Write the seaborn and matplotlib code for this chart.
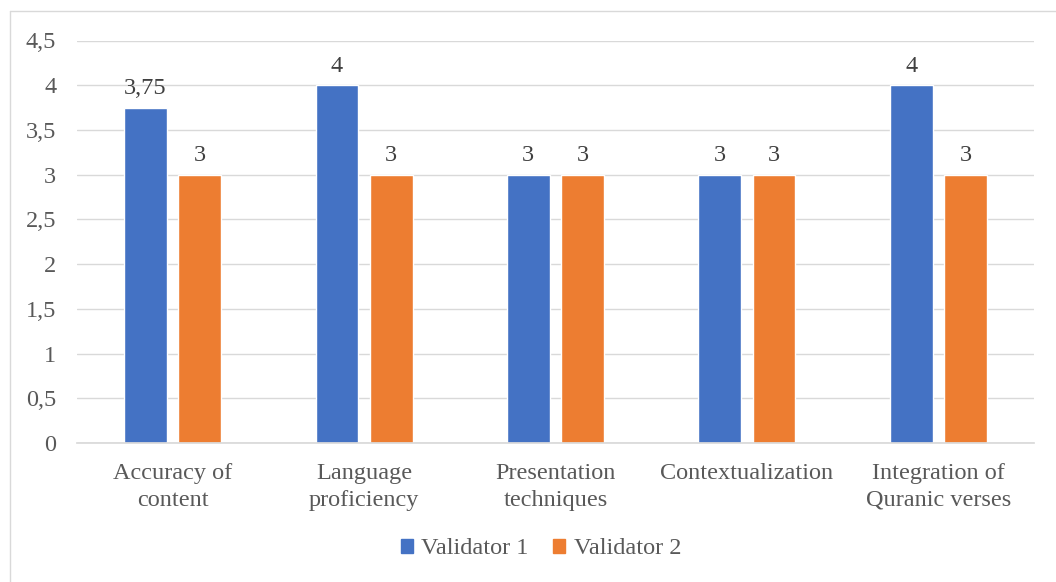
import matplotlib
matplotlib.use("Agg")
import matplotlib.pyplot as plt
import seaborn as sns
import pandas as pd
from matplotlib.patches import Rectangle
from matplotlib.lines import Line2D
from matplotlib.ticker import FuncFormatter

categories = ["Accuracy of\ncontent", "Language\nproficiency", "Presentation\ntechniques",
              "Contextualization", "Integration of\nQuranic verses"]
validator1 = [3.75, 4, 3, 3, 4]
validator2 = [3, 3, 3, 3, 3]
series = ["Validator 1", "Validator 2"]
colors = ["#4472C4", "#ED7D31"]
yticks = [0, 0.5, 1, 1.5, 2, 2.5, 3, 3.5, 4, 4.5]

df = pd.DataFrame({
    "category": categories * 2,
    "value": validator1 + validator2,
    "series": [series[0]] * len(categories) + [series[1]] * len(categories),
})

sns.set_theme(style="white")
plt.rcParams["font.family"] = ["Liberation Serif", "DejaVu Serif"]
txt = "#595959"
fs = 17.5

W, H = 1056, 582
fig = plt.figure(figsize=(W / 100, H / 100), dpi=100)
x0, x1, ytop, ybot = 77, 1034, 40.5, 443
ax = fig.add_axes([x0 / W, 1 - ybot / H, (x1 - x0) / W, (ybot - ytop) / H])
sns.barplot(data=df, x="category", y="value", hue="series", palette=colors,
            width=0.567, gap=0.21, ax=ax, legend=False, saturation=1)

def fmt(v):
    s = f"{v:g}"
    return s.replace(".", ",")

for cont in ax.containers:
    ax.bar_label(cont, labels=[fmt(b.get_height()) for b in cont], padding=6,
                 fontsize=fs, color="#404040")

ax.set_ylim(0, 4.5)
ax.set_xlim(-0.5, len(categories) - 0.5)
ax.set_yticks(yticks)
ax.yaxis.set_major_formatter(FuncFormatter(lambda v, p: fmt(v)))
ax.grid(axis="y", color="#D9D9D9", linewidth=1)
ax.set_axisbelow(True)
for s in ["top", "right", "left"]:
    ax.spines[s].set_visible(False)
ax.spines["bottom"].set_color("#D9D9D9")
ax.tick_params(axis="both", length=0, labelsize=fs, labelcolor=txt)
ax.tick_params(axis="y", pad=15)
ax.tick_params(axis="x", pad=14.5)
for lab in ax.get_xticklabels():
    lab.set_linespacing(1.35)
ax.set_xlabel("")
ax.set_ylabel("")

handles = [Rectangle((0, 0), 1, 1, color=c) for c in colors]
fig.legend(handles, series, loc="center", bbox_to_anchor=(541 / W, 1 - 549 / H), ncol=2,
           frameon=False, fontsize=fs, labelcolor=txt, handlelength=0.5,
           handleheight=0.5, handletextpad=0.35, columnspacing=1.0)

# outer chart border (left and top edges visible in the reference)
fig.add_artist(Line2D([10 / W, 10 / W], [0, 1 - 11 / H], transform=fig.transFigure,
                      color="#D9D9D9", linewidth=1))
fig.add_artist(Line2D([10 / W, 1], [1 - 11 / H, 1 - 11 / H], transform=fig.transFigure,
                      color="#D9D9D9", linewidth=1))
fig.savefig("out.png", dpi=100)
